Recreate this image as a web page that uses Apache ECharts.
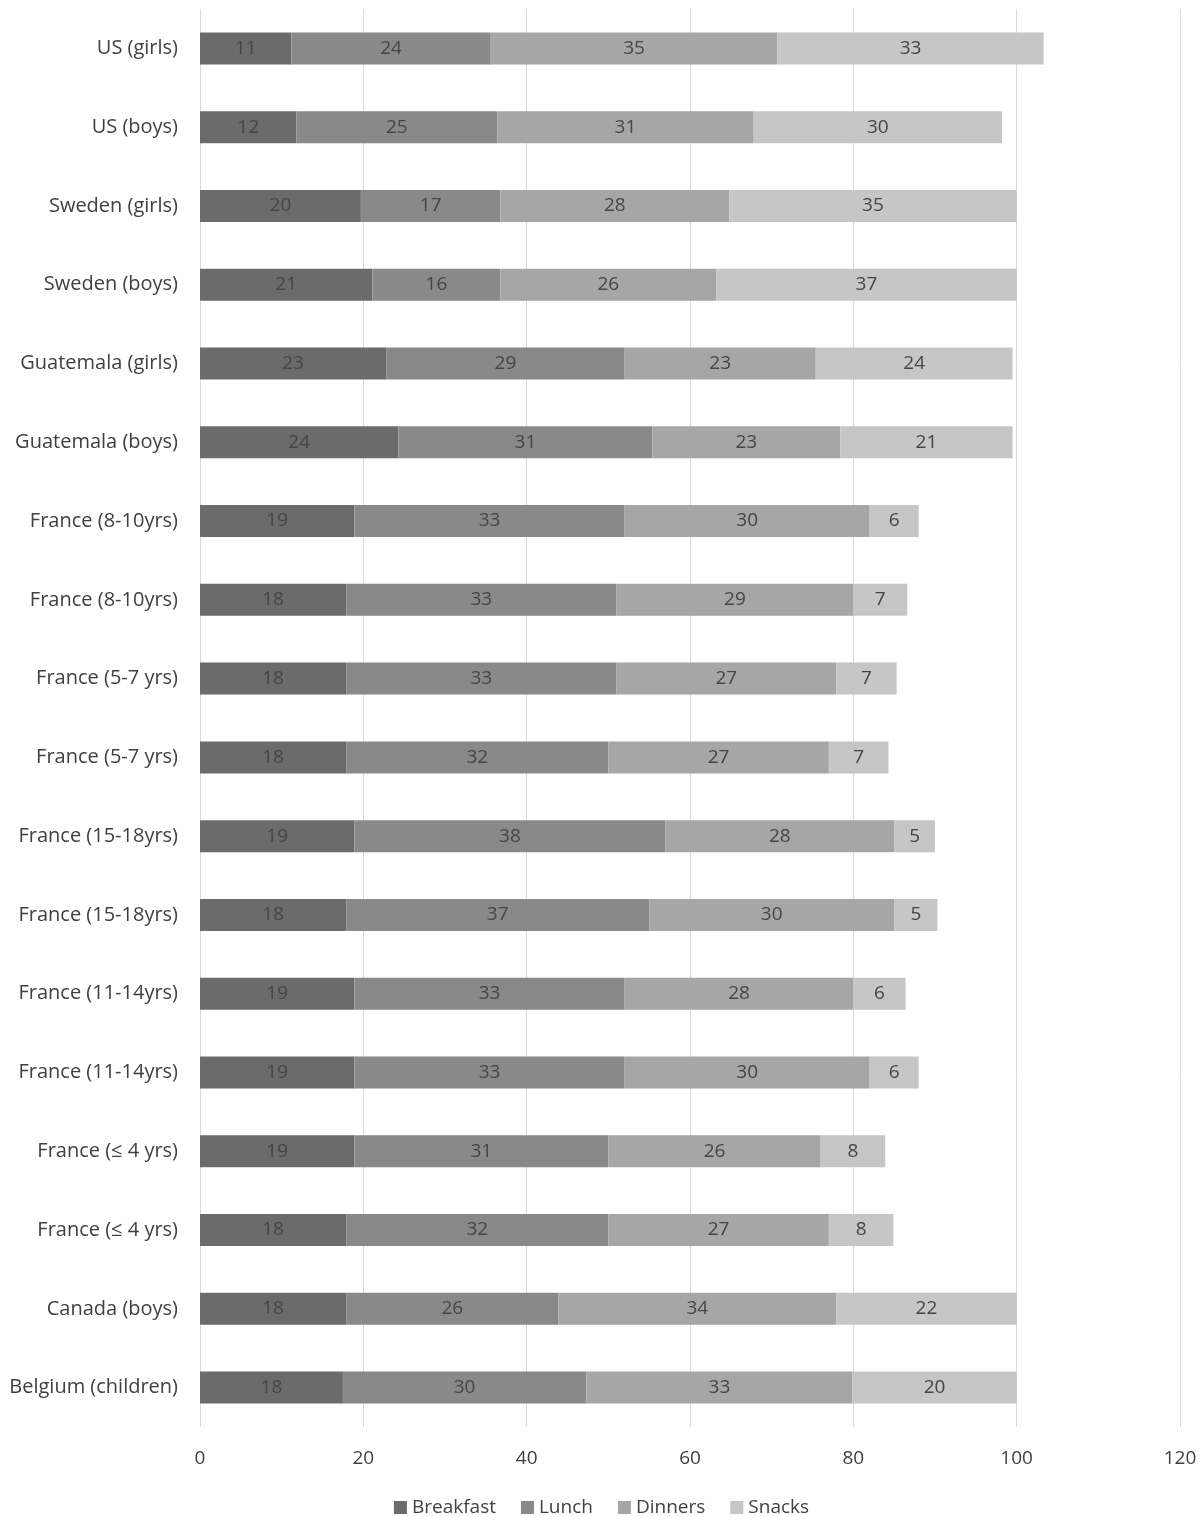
<!DOCTYPE html>
<html>
<head>
<meta charset="utf-8">
<script src="https://cdn.jsdelivr.net/npm/echarts@6/dist/echarts.min.js"></script>
<style>
html,body{margin:0;padding:0;background:#fff;}
#c{width:1203px;height:1517px;}
</style>
</head>
<body>
<div id="c"></div>
<script>
const categories = [
  'US (girls)', 'US (boys)', 'Sweden (girls)', 'Sweden (boys)',
  'Guatemala (girls)', 'Guatemala (boys)', 'France (8-10yrs)', 'France (8-10yrs)',
  'France (5-7 yrs)', 'France (5-7 yrs)', 'France (15-18yrs)', 'France (15-18yrs)',
  'France (11-14yrs)', 'France (11-14yrs)', 'France (≤ 4 yrs)', 'France (≤ 4 yrs)',
  'Canada (boys)', 'Belgium (children)'
];
const breakfast = [11.2, 11.8, 19.7, 21.1, 22.8, 24.3, 18.9, 17.9, 17.9, 17.9, 18.9, 17.9, 18.9, 18.9, 18.9, 17.9, 17.9, 17.5];
const lunch     = [24.4, 24.6, 17.1, 15.7, 29.2, 31.1, 33.1, 33.1, 33.1, 32.1, 38.1, 37.1, 33.1, 33.1, 31.1, 32.1, 26.0, 29.8];
const dinners   = [35.1, 31.4, 28.0, 26.4, 23.4, 23.0, 30.0, 29.0, 26.9, 27.0, 28.0, 30.0, 28.0, 30.0, 26.0, 27.0, 34.0, 32.6];
const snacks    = [32.6, 30.4, 35.2, 36.8, 24.1, 21.1, 6.0, 6.6, 7.4, 7.3, 5.0, 5.3, 6.4, 6.0, 7.9, 7.9, 22.1, 20.1];
const xTicks = { min: 0, max: 120, interval: 20 };

const FONT = '"Open Sans", "Liberation Sans", sans-serif';
const chart = echarts.init(document.getElementById('c'), null, {renderer: 'canvas'});
function mk(name, data, color) {
  return {
    name: name, type: 'bar', stack: 'total', data: data, barWidth: 32,
    itemStyle: { color: color },
    label: {
      show: true, position: 'inside', color: '#454545', fontFamily: FONT, fontSize: 19,
      formatter: p => Math.round(p.value)
    }
  };
}
chart.setOption({
  animation: false,
  backgroundColor: '#fff',
  grid: { left: 200, right: 23, top: 9, bottom: 90 },
  legend: {
    bottom: -5, left: 'center', itemWidth: 13, itemHeight: 13, itemGap: 25,
    icon: 'rect',
    textStyle: { color: '#404040', fontFamily: FONT, fontSize: 19 },
    data: ['Breakfast', 'Lunch', 'Dinners', 'Snacks']
  },
  xAxis: {
    type: 'value', min: xTicks.min, max: xTicks.max, interval: xTicks.interval,
    axisLine: { show: false }, axisTick: { show: false },
    splitLine: { show: true, lineStyle: { color: '#d9d9d9', width: 1 } },
    axisLabel: { color: '#404040', fontFamily: FONT, fontSize: 19, margin: 22 }
  },
  yAxis: {
    type: 'category', data: categories, inverse: true,
    axisLine: { show: false }, axisTick: { show: false },
    axisLabel: { color: '#404040', fontFamily: FONT, fontSize: 20, margin: 22 }
  },
  series: [
    mk('Breakfast', breakfast, '#6b6b6b'),
    mk('Lunch', lunch, '#898989'),
    mk('Dinners', dinners, '#a6a6a6'),
    mk('Snacks', snacks, '#c6c6c6')
  ]
});
</script>
</body>
</html>
